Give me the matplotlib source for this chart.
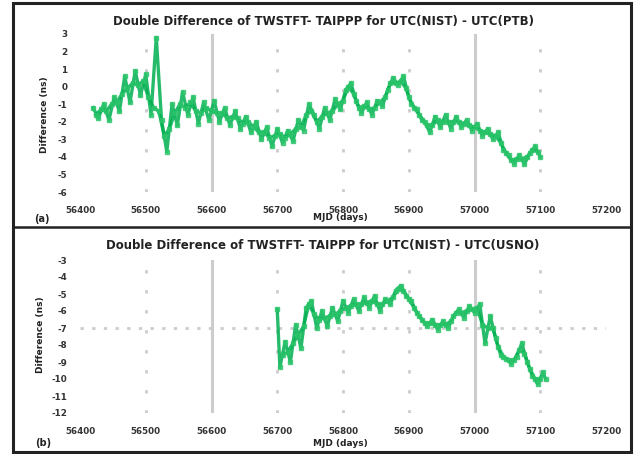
import matplotlib.pyplot as plt
from matplotlib.patches import Rectangle
from matplotlib.lines import Line2D

plt.rcParams['axes.unicode_minus'] = False

# ---------------- data ----------------
mjd_ticks = [56400, 56500, 56600, 56700, 56800, 56900, 57000, 57100, 57200]

# UTC(NIST) - UTC(PTB)
ptb_mjd = [56420, 56428, 56436, 56444, 56452, 56460, 56468, 56476, 56484, 56492,
           56500, 56508, 56516, 56524, 56532, 56540, 56548, 56556, 56564, 56572,
           56580, 56588, 56596, 56604, 56612, 56620, 56628, 56636, 56644, 56652,
           56660, 56668, 56676, 56684, 56692, 56700, 56708, 56716, 56724, 56732,
           56740, 56748, 56756, 56764, 56772, 56780, 56788, 56796, 56804, 56812,
           56820, 56828, 56836, 56844, 56852, 56860, 56868, 56876, 56884, 56892,
           56900, 56908, 56916, 56924, 56932, 56940, 56948, 56956, 56964, 56972,
           56980, 56988, 56996, 57004, 57012, 57020, 57028, 57036, 57044, 57052,
           57060, 57068, 57076, 57084, 57092, 57100]
ptb_dd = [-1.2, -1.8, -1.0, -1.9, -0.6, -1.4, 0.6, -0.9, 0.9, -0.5,
          0.7, -1.6, 2.8, -1.9, -3.7, -1.0, -2.2, -0.3, -1.6, -0.6,
          -2.1, -0.9, -1.9, -0.8, -2.0, -1.2, -2.2, -1.4, -2.4, -1.7,
          -2.6, -2.0, -3.0, -2.3, -3.4, -2.4, -3.2, -2.5, -3.1, -1.9,
          -2.5, -1.0, -1.6, -2.4, -1.2, -1.9, -0.7, -1.3, -0.2, 0.2,
          -0.8, -1.5, -0.9, -1.6, -0.8, -1.1, -0.2, 0.5, 0.1, 0.6,
          -0.6, -1.2, -1.6, -2.0, -2.6, -1.7, -2.3, -1.6, -2.4, -1.7,
          -2.3, -1.9, -2.5, -2.1, -2.8, -2.4, -3.0, -2.6, -3.6, -3.9,
          -4.4, -3.9, -4.4, -3.8, -3.4, -4.0]

# second set of PTB samples, in between the ones above
ptb_mjd_b = [56424, 56432, 56440, 56448, 56456, 56464, 56472, 56480, 56488, 56496,
             56504, 56512, 56520, 56528, 56536, 56544, 56552, 56560, 56568, 56576,
             56584, 56592, 56600, 56608, 56616, 56624, 56632, 56640, 56648, 56656,
             56664, 56672, 56680, 56688, 56696, 56704, 56712, 56720, 56728, 56736,
             56744, 56752, 56760, 56768, 56776, 56784, 56792, 56800, 56808, 56816,
             56824, 56832, 56840, 56848, 56856, 56864, 56872, 56880, 56888, 56896,
             56904, 56912, 56920, 56928, 56936, 56944, 56952, 56960, 56968, 56976,
             56984, 56992, 57000, 57008, 57016, 57024, 57032, 57040, 57048, 57056,
             57064, 57072, 57080, 57088, 57096]
ptb_dd_b = [-1.6, -1.3, -1.4, -1.0, -0.9, -0.4, -0.1, 0.2, 0.1, 0.3,
            -0.6, -1.2, -1.4, -2.8, -2.4, -1.5, -1.0, -1.2, -0.9, -1.4,
            -1.5, -1.2, -1.4, -1.5, -1.5, -1.8, -1.7, -1.8, -2.1, -2.0,
            -2.3, -2.6, -2.6, -2.9, -2.8, -2.7, -2.9, -2.7, -2.4, -2.3,
            -1.6, -1.4, -2.0, -1.7, -1.5, -1.4, -1.0, -0.8, 0.0, -0.4,
            -1.2, -1.1, -1.3, -1.2, -0.9, -0.6, 0.2, 0.2, 0.3, -0.1,
            -1.0, -1.3, -1.9, -2.2, -2.2, -1.9, -2.0, -2.0, -2.0, -2.0,
            -2.1, -2.2, -2.3, -2.5, -2.6, -2.7, -2.8, -3.2, -3.8, -4.2,
            -4.1, -4.1, -4.0, -3.6, -3.7]

# UTC(NIST) - UTC(USNO)
usno_mjd = [56700, 56704, 56712, 56720, 56728, 56736, 56744, 56752, 56760, 56768,
            56776, 56784, 56792, 56800, 56808, 56816, 56824, 56832, 56840, 56848,
            56856, 56864, 56872, 56880, 56888, 56896, 56904, 56912, 56920, 56928,
            56936, 56944, 56952, 56960, 56968, 56976, 56984, 56992, 57000, 57008,
            57016, 57024, 57032, 57040, 57048, 57056, 57064, 57072, 57080, 57088,
            57096, 57104, 57108]
usno_dd = [-5.9, -9.3, -7.8, -9.0, -6.8, -8.2, -5.8, -5.4, -7.0, -6.0,
           -6.9, -5.8, -6.6, -5.4, -6.1, -5.3, -6.0, -5.2, -5.8, -5.1,
           -6.0, -5.3, -5.6, -4.8, -4.5, -5.1, -5.4, -6.1, -6.5, -6.9,
           -6.5, -7.1, -6.6, -7.0, -6.3, -5.9, -6.4, -5.7, -6.1, -5.6,
           -7.9, -6.3, -7.6, -8.6, -8.8, -9.1, -8.7, -7.9, -9.0, -9.8,
           -10.3, -9.6, -10.0]

usno_mjd_b = [56708, 56716, 56724, 56732, 56740, 56748, 56756, 56764, 56772, 56780,
              56788, 56796, 56804, 56812, 56820, 56828, 56836, 56844, 56852, 56860,
              56868, 56876, 56884, 56892, 56900, 56908, 56916, 56924, 56932, 56940,
              56948, 56956, 56964, 56972, 56980, 56988, 56996, 57004, 57012, 57020,
              57028, 57036, 57044, 57052, 57060, 57068, 57076, 57084, 57092, 57100]
usno_dd_b = [-8.6, -8.4, -7.9, -7.4, -6.9, -5.6, -6.2, -6.5, -6.4, -6.3,
             -6.2, -6.0, -5.8, -5.7, -5.6, -5.6, -5.5, -5.4, -5.6, -5.6,
             -5.4, -5.2, -4.7, -4.8, -5.3, -5.8, -6.3, -6.7, -6.7, -6.8,
             -6.8, -6.8, -6.6, -6.1, -6.1, -6.0, -5.9, -5.8, -6.8, -7.0,
             -7.0, -8.1, -8.7, -8.9, -8.9, -8.3, -8.5, -9.4, -10.0, -10.0]

panels = [
    dict(series=[(ptb_mjd, ptb_dd), (ptb_mjd_b, ptb_dd_b)], ylim=(-6, 3),
         yticks=list(range(3, -7, -1)),
         title='Double Difference of TWSTFT- TAIPPP for UTC(NIST) - UTC(PTB)',
         tag='(a)'),
    dict(series=[(usno_mjd, usno_dd), (usno_mjd_b, usno_dd_b)], ylim=(-12, -3),
         yticks=list(range(-3, -13, -1)),
         title='Double Difference of TWSTFT- TAIPPP for UTC(NIST) - UTC(USNO)',
         tag='(b)'),
]

# ---------------- plot ----------------
fig = plt.figure(figsize=(6.36, 4.54), dpi=100)
W, H = 636, 454

green = '#00b050'
grid_c = '#cccccc'

# axes rectangles in pixels: (left, top, right, bottom)
boxes = [(80, 34, 606, 192), (80, 260, 606, 413)]
title_y = [22, 245]
xlab_y = [218, 443]
tag_xy = [(42, 219), (43, 443)]
ylab_xy = [(45, 115), (41, 335)]

for p, (l, t, r, b), ty, xy, (tx, tyy), (lx, ly) in zip(panels, boxes, title_y, xlab_y, tag_xy, ylab_xy):
    ax = fig.add_axes([l / W, 1 - b / H, (r - l) / W, (b - t) / H])
    ax.set_xlim(56400, 57200)
    ax.set_ylim(*p['ylim'])

    # gridlines: solid at 56600 / 57000, sparse dots elsewhere
    for m in mjd_ticks[1:-1]:
        if m in (56600, 57000):
            ax.axvline(m, color=grid_c, lw=2.2, zorder=0)
        else:
            ax.axvline(m, color=grid_c, lw=2, ls=(0, (1.2, 6)), zorder=0)
    if p['tag'] == '(b)':
        ax.axhline(-7, color=grid_c, lw=2, ls=(0, (1.2, 3)), zorder=0)

    for sx, sy in p['series']:
        ax.plot(sx, sy, color=green, lw=2.4, alpha=0.85, zorder=2)
        ax.plot(sx, sy, ls='', marker='s', ms=3, color='#2cc56a', alpha=0.8, zorder=3)

    ax.set_xticks(mjd_ticks)
    ax.set_xticklabels([str(m) for m in mjd_ticks])
    ax.set_yticks(p['yticks'])
    ax.tick_params(length=0, labelsize=6.3, labelcolor='#333333')
    ax.tick_params(axis='x', pad=10)
    ax.tick_params(axis='y', pad=9)
    for lab in ax.get_xticklabels() + ax.get_yticklabels():
        lab.set_fontweight('bold')
    for s in ax.spines.values():
        s.set_visible(False)

    fig.text(323 / W, 1 - ty / H, p['title'], ha='center', va='center',
             fontsize=8.5, fontweight='bold', color='#222222')
    fig.text(340 / W, 1 - xy / H, 'MJD (days)', ha='center', va='center',
             fontsize=6.5, fontweight='bold', color='#222222')
    fig.text(tx / W, 1 - tyy / H, p['tag'], ha='center', va='center',
             fontsize=7, fontweight='bold', color='#222222')
    fig.text(lx / W, 1 - ly / H, 'Difference (ns)', ha='center', va='center',
             rotation=90, fontsize=6.5, fontweight='bold', color='#222222')

# outer frame and separator
fig.patches.append(Rectangle((13 / W, 1 - 452 / H), (631 - 13) / W, (452 - 3) / H,
                             transform=fig.transFigure, fill=False, ec='#222222', lw=2.2))
fig.lines.append(Line2D([13 / W, 631 / W], [1 - 227 / H, 1 - 227 / H],
                        transform=fig.transFigure, color='#222222', lw=1.8))

fig.savefig('out.png', dpi=100)
